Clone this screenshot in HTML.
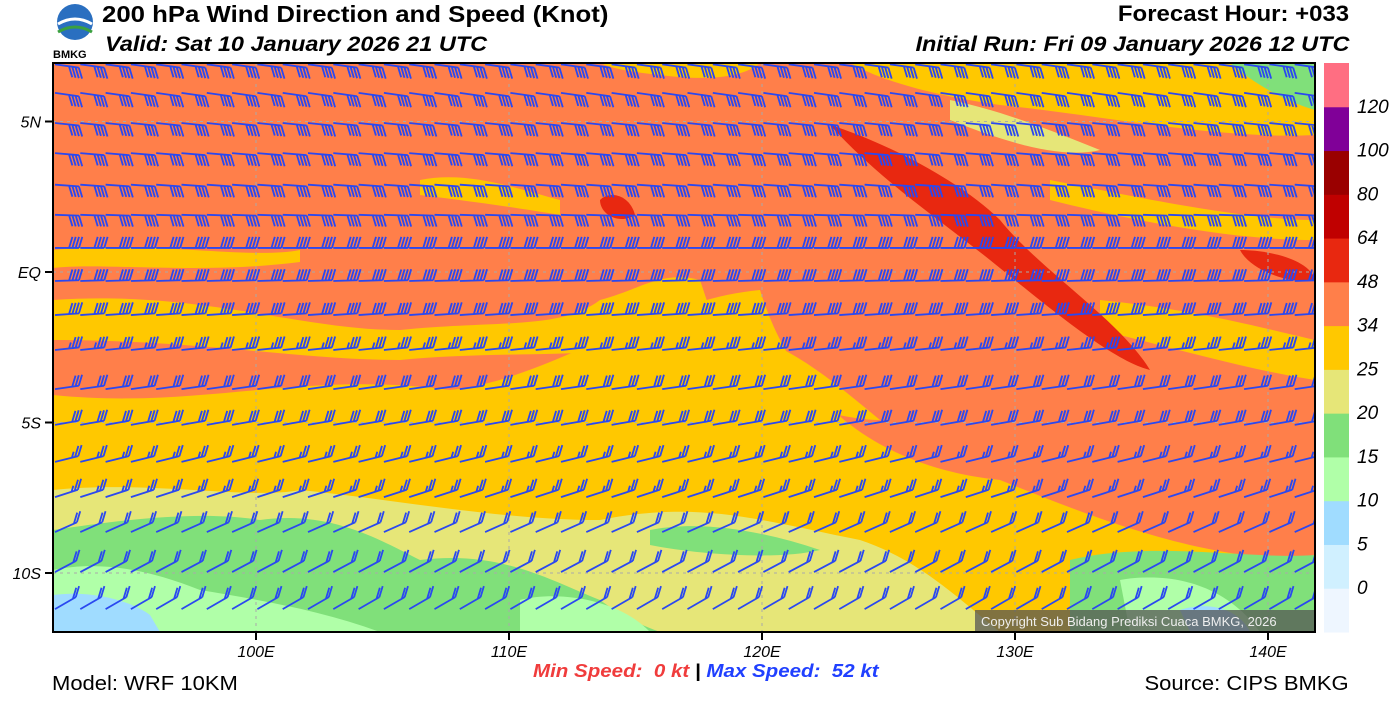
<!DOCTYPE html>
<html><head><meta charset="utf-8"><style>
body{margin:0;background:#fff;width:1400px;height:709px;overflow:hidden;font-family:"Liberation Sans",sans-serif}
.t{position:absolute;font-weight:bold;white-space:nowrap}
</style></head><body>
<div style="position:absolute;left:52px;top:2px;width:46px;height:58px">
<svg width="46" height="58"><circle cx="23" cy="20" r="18" fill="#2a6fc0"/><path d="M6 22 Q23 12 40 22" stroke="#fff" stroke-width="3" fill="none"/><path d="M6 30 Q23 20 40 30" stroke="#3aa040" stroke-width="3" fill="none"/><text x="1" y="56" font-size="11" font-weight="bold" font-family="Liberation Sans">BMKG</text></svg></div>
<div class="t" style="left:102px;top:1px;font-size:23px;transform:scaleX(1.12);transform-origin:left top">200 hPa Wind Direction and Speed (Knot)</div>
<div class="t" style="left:105px;top:33px;font-size:21px;font-style:italic;transform:scaleX(1.12);transform-origin:left top">Valid: Sat 10 January 2026 21 UTC</div>
<div class="t" style="right:51px;top:1px;font-size:22px;transform:scaleX(1.09);transform-origin:right top">Forecast Hour: +033</div>
<div class="t" style="right:51px;top:33px;font-size:21px;font-style:italic;transform:scaleX(1.12);transform-origin:right top">Initial Run: Fri 09 January 2026 12 UTC</div>
<div class="t" style="left:52px;top:673px;font-size:20px;font-weight:normal;transform:scaleX(1.1);transform-origin:left top">Model: WRF 10KM</div>
<div class="t" style="right:51px;top:673px;font-size:20px;font-weight:normal;transform:scaleX(1.1);transform-origin:right top">Source: CIPS BMKG</div>
<div class="t" style="left:533px;top:661px;font-size:18px;font-style:italic;transform:scaleX(1.14);transform-origin:left top"><span style="color:#f03c3c">Min Speed:&nbsp; 0 kt</span> | <span style="color:#2040ff">Max Speed:&nbsp; 52 kt</span></div>
<svg id="c" width="1400" height="709" style="position:absolute;left:0;top:0"></svg>
<script>
const lonTicks=[100,110,120,130,140];
const latTicks=[5,0,-5,-10];
const latLabels=["5N","EQ","5S","10S"];
const levels=["0","5","10","15","20","25","34","48","64","80","100","120"];
const levelColors=["#eef6ff","#d0f0ff","#a0dcff","#b0ffa8","#80e07a","#e6e678","#ffc800","#ff7f4a","#e82810","#c00000","#9a0000","#800098","#ff6e82"];
const rowLats=[6.9,5.95,4.95,3.95,2.9,1.9,0.8,-0.3,-1.43,-2.59,-3.89,-5.08,-6.31,-7.48,-8.64,-9.97,-11.2];
const rowSpeeds=[40,40,40,40,40,40,40,40,40,35,30,30,25,25,20,20,20];
const rowAngles=[8,8,6,5,4,2,0,-2,-4,-6,-8,-10,-14,-18,-24,-28,-30];
const NS='http://www.w3.org/2000/svg';
const svg=document.getElementById('c');
const X0=53,X1=1315,Y0=63,Y1=632;
const xs=lon=>256+(lon-100)*25.3;
const ys=lat=>272-lat*30.1;
function mk(t,a,p){const e=document.createElementNS(NS,t);for(const k in a)e.setAttribute(k,a[k]);(p||svg).appendChild(e);return e;}
const clip=mk('clipPath',{id:'mc'});mk('rect',{x:X0,y:Y0,width:X1-X0,height:Y1-Y0},clip);
const g=mk('g',{'clip-path':'url(#mc)'});


mk('rect',{x:X0,y:Y0,width:X1-X0,height:Y1-Y0,fill:'#ff7f4a'},g);
const P=[
['#ffc800','M53 395 C200 410 300 370 450 390 C550 380 650 300 760 290 C800 420 900 470 1000 480 C1100 520 1200 560 1315 560 L1315 632 L53 632Z'],
['#ffc800','M53 300 C200 290 300 330 400 330 C500 320 560 330 600 300 C640 290 660 270 700 280 L720 340 C600 360 500 350 400 360 C300 360 200 340 53 340Z'],
['#ffc800','M53 250 C150 240 250 260 300 250 L300 262 C200 275 100 262 53 268Z'],
['#ffc800','M690 330 C760 320 820 370 880 420 C830 420 760 390 690 370Z'],
['#ffc800','M420 180 C470 170 520 190 560 200 L560 215 C500 205 460 200 420 195Z'],
['#e6e678','M53 490 C150 480 250 500 300 490 C400 500 500 520 600 520 C700 500 760 520 860 540 C920 560 960 600 1000 632 L53 632Z'],
['#e6e678','M680 580 C740 560 800 560 850 600 L850 632 L680 632Z'],
['#80e07a','M53 530 C120 520 200 510 260 520 C330 510 380 540 420 560 C500 550 550 580 600 600 C620 615 640 625 660 632 L53 632Z'],
['#80e07a','M650 530 C700 520 760 530 820 550 C780 560 700 555 650 545Z'],
['#b0ffa8','M53 570 C100 560 150 570 200 590 C260 600 320 610 380 632 L53 632Z'],
['#b0ffa8','M520 600 C560 590 620 600 650 632 L520 632Z'],
['#a0dcff','M53 595 C90 590 130 600 150 615 L160 632 L53 632Z'],
['#80e07a','M1070 560 C1150 540 1250 560 1315 555 L1315 632 L1070 632Z'],
['#b0ffa8','M1120 580 C1180 570 1230 590 1260 632 L1130 632Z'],
['#a0dcff','M1180 610 C1210 600 1240 610 1250 632 L1190 632Z'],
['#ffc800','M850 63 L1315 63 L1315 135 C1220 140 1100 115 1000 105 C930 95 880 80 850 63Z'],
['#ffc800','M600 63 L760 63 C740 80 700 80 660 75 C630 72 610 68 600 63Z'],
['#80e07a','M1230 63 L1315 63 L1315 110 C1280 100 1250 80 1230 63Z'],
['#e6e678','M950 100 C1000 110 1050 130 1100 150 C1060 160 1000 140 950 120Z'],
['#ffc800','M1050 180 C1150 200 1250 220 1315 220 L1315 240 C1230 240 1130 220 1050 200Z'],
['#ffc800','M1100 300 C1200 310 1270 330 1315 340 L1315 380 C1250 370 1180 350 1100 330Z'],
['#e82810','M830 125 C880 140 960 180 1000 220 C1040 270 1120 320 1150 370 C1110 360 1040 300 990 260 C940 220 880 180 830 125Z'],
['#e82810','M600 200 C610 190 630 195 635 215 C620 225 600 215 600 200Z'],
['#e82810','M1240 250 C1270 250 1310 260 1315 280 C1290 285 1250 270 1240 250Z']];
P.forEach(([c,d])=>{const p=mk('path',{d:d,fill:c},g);});
lonTicks.forEach(l=>{const e=mk('line',{x1:xs(l),x2:xs(l),y1:Y0,y2:Y1,stroke:'#aaa','stroke-dasharray':'3 4','stroke-width':1},g);});
latTicks.forEach(l=>{const e=mk('line',{x1:X0,x2:X1,y1:ys(l),y2:ys(l),stroke:'#aaa','stroke-dasharray':'3 4','stroke-width':1},g);});
const bg=mk('g',{stroke:'#2a48f0','stroke-width':1.8,fill:'none'},g);


rowLats.forEach((lat,r)=>{
  const y=ys(lat),a=rowAngles[r]*Math.PI/180,s=rowSpeeds[r];
  const n=Math.floor(s/10),half=(s%10)>=5;
  const dx=Math.cos(a),dy=Math.sin(a);
  const up=lat<1;
  const px=0.3,py=up?-1:1;
  for(let x=X0+2;x<X1;x+=25.3){
    const L=24,tx=x+dx*L,ty=y+dy*L;
    let d=`M${x} ${y}L${tx} ${ty}`;
    for(let k=0;k<n;k++){const bx=tx-dx*k*3.3,by=ty-dy*k*3.3;d+=`M${bx} ${by}l${px*11} ${py*11}`;}
    if(half){const bx=tx-dx*n*3.3,by=ty-dy*n*3.3;d+=`M${bx} ${by}l${px*6} ${py*6}`;}
    const e=mk('path',{d:d},bg);
    
    
  }
});
const cr=mk('rect',{x:975,y:610,width:340,height:22,fill:'#555','fill-opacity':0.75},g);

const ct=mk('text',{x:981,y:626,'font-size':13,fill:'#eee','font-family':'Liberation Sans'},g);ct.textContent='Copyright Sub Bidang Prediksi Cuaca BMKG, 2026';

const fr=mk('rect',{x:X0,y:Y0,width:X1-X0,height:Y1-Y0,fill:'none',stroke:'#000','stroke-width':2});

lonTicks.forEach(l=>{const x=xs(l);mk('line',{x1:x,x2:x,y1:Y1,y2:Y1+8,stroke:'#000','stroke-width':2});
 const t=mk('text',{x:x,y:Y1+25,'font-size':16,'font-style':'italic','text-anchor':'middle','font-family':'Liberation Sans'});t.textContent=l+'E';
 });
latTicks.forEach((l,i)=>{const y=ys(l);mk('line',{x1:X0-8,x2:X0,y1:y,y2:y,stroke:'#000','stroke-width':2});
 const t=mk('text',{x:X0-12,y:y+6,'font-size':16,'font-style':'italic','text-anchor':'end','font-family':'Liberation Sans'});t.textContent=latLabels[i];
 });
const cbH=(Y1-Y0)/levelColors.length;
levelColors.forEach((c,i)=>{const e=mk('rect',{x:1324,y:Y1-(i+1)*cbH,width:25,height:cbH+0.5,fill:c});
 });
levels.forEach((l,i)=>{const t=mk('text',{x:1357,y:Y1-(i+1)*cbH+6,'font-size':19,'font-style':'italic','font-family':'Liberation Sans'});t.textContent=l;
 });
</script>
</body></html>
